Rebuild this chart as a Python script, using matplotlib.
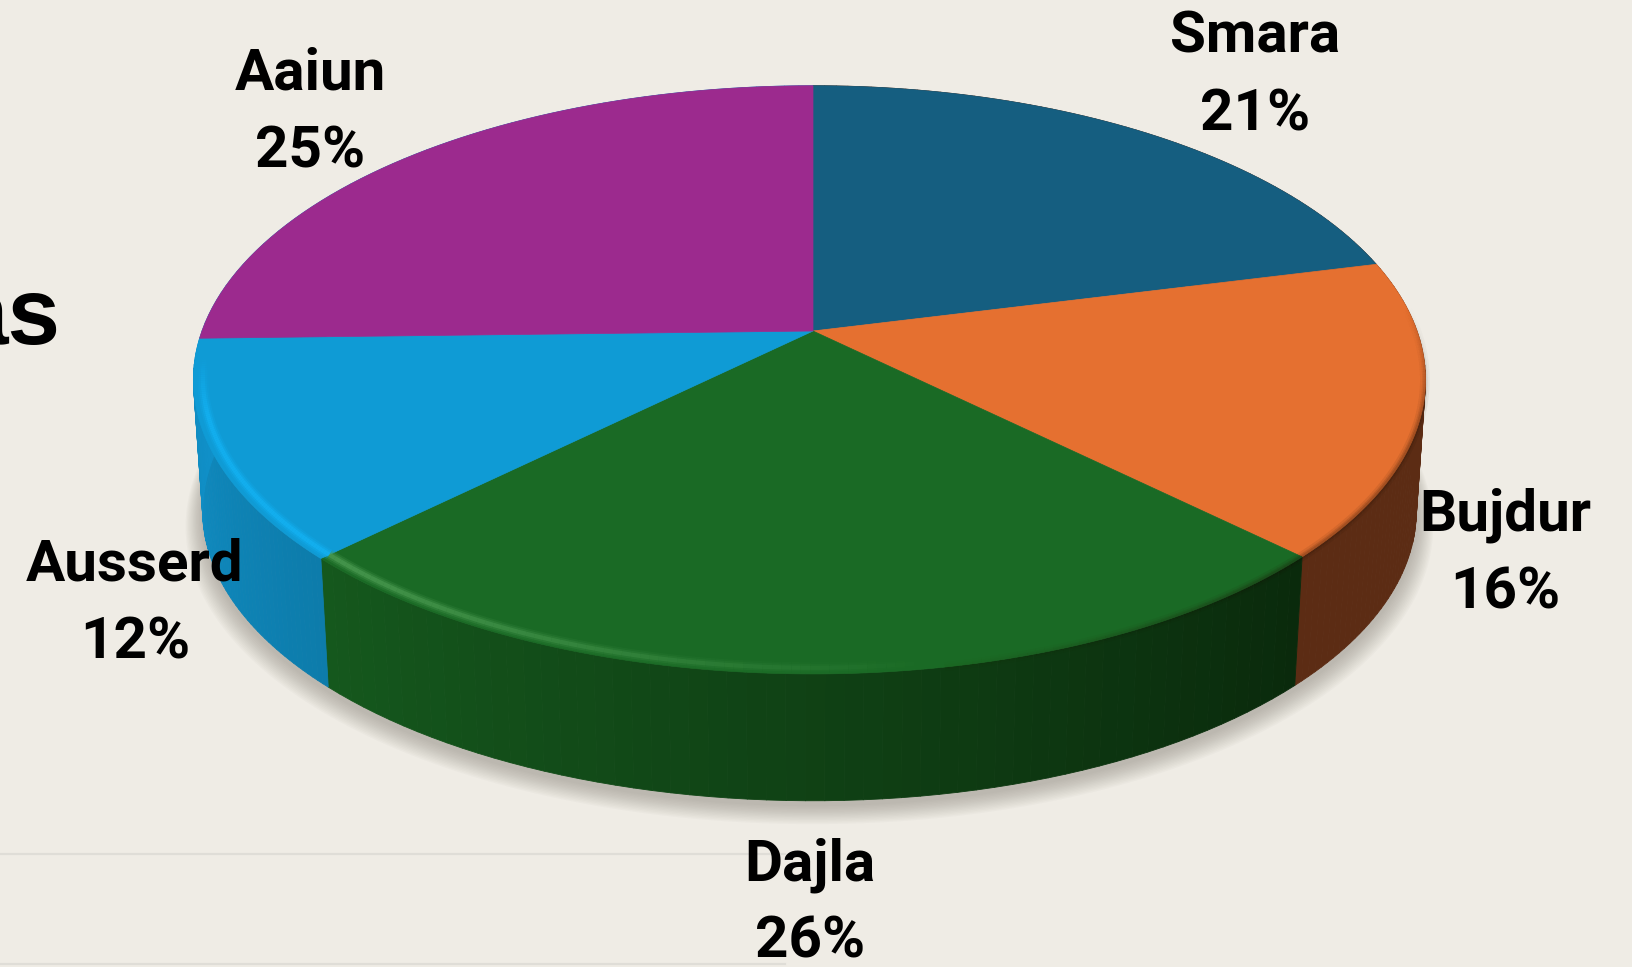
import numpy as np
import matplotlib
matplotlib.use("Agg")
from matplotlib import pyplot as plt
from matplotlib.collections import LineCollection, PolyCollection
from matplotlib.colors import to_rgb

# slices, clockwise from 12 o'clock
regions = ["Smara", "Bujdur", "Dajla", "Ausserd", "Aaiun"]
shares = [21.1, 16.2, 25.3, 12.0, 25.4]
percents = ["21%", "16%", "26%", "12%", "25%"]

top_colors = ["#155e80", "#e57030", "#1a6a25", "#0f9bd5", "#9c2a8e"]
wall_start = ["#5c2c14", "#5c2c14", "#0a2a0c", "#0d7cab", "#1090c8"]
wall_end = ["#5c2c14", "#5c2c14", "#15581d", "#1090c8", "#1090c8"]
rim_light = ["#155e80", "#e57030", "#4f9f55", "#14b4f5", "#14b4f5"]

# label centres in pixels (name line, percent line)
label_pos = [(1255, 37, 115), (1505, 515, 593), (810, 865, 942), (135, 565, 643), (310, 74, 152)]

bg = "#efece5"
# perspective of the disc
cx, cy = 813, 331
radius_right = 604
radius_left = 611
persp = 0.166
squash = 286
depth = 132
base_scale = 0.985


def top_xy(theta, r=1.0):
    theta = np.asarray(theta, dtype=float)
    u = r * np.sin(np.radians(theta))
    v = -r * np.cos(np.radians(theta))
    w = 1 - persp * v
    rad = np.where(u >= 0, radius_right, radius_left)
    return cx + rad * u / w, cy + squash * v / w


def base_xy(theta):
    x, y = top_xy(theta)
    return cx + (x - cx) * base_scale, cy + (y - cy) * base_scale + depth


def mix(c1, c2, t):
    c1, c2 = np.array(to_rgb(c1)), np.array(to_rgb(c2))
    return tuple(c1 + (c2 - c1) * t)


fig = plt.figure(figsize=(16.33, 9.67), dpi=100, facecolor=bg)
ax = fig.add_axes([0, 0, 1, 1])
ax.set_xlim(0, 1633)
ax.set_ylim(967, 0)
ax.axis("off")

# faint rules left behind the chart
ax.plot([0, 785], [854, 854], color="#dfddd7", lw=1.6, zorder=1)
ax.plot([0, 785], [964, 964], color="#dfddd7", lw=1.6, zorder=1)

# soft shadow under the disc
all_angles = np.linspace(0, 360, 361)
bx, by = base_xy(all_angles)
for i in range(14):
    s = 1.0 + 0.002 * (14 - i)
    sx = cx + (bx - cx) * s
    sy = cy + 127 + (by - cy - 127) * s + 4 + 0.7 * (14 - i)
    ax.fill(sx, sy, color="#6f6a60", alpha=0.03, lw=0, zorder=2)

edges = np.concatenate([[0], np.cumsum(shares)]) * 3.6
edges = edges * 360 / edges[-1]

# side walls, cut in thin strips so the colour can change along the rim
for i in range(len(regions)):
    a = np.linspace(edges[i], edges[i + 1], 60)
    polys, cols = [], []
    for j in range(len(a) - 1):
        x0, y0 = top_xy(a[j])
        x1, y1 = top_xy(a[j + 1])
        x2, y2 = base_xy(a[j + 1])
        x3, y3 = base_xy(a[j])
        polys.append([(x0, y0), (x1, y1), (x2, y2), (x3, y3)])
        cols.append(mix(wall_start[i], wall_end[i], j / (len(a) - 2)))
    ax.add_collection(PolyCollection(polys, facecolors=cols, edgecolors=cols, linewidths=0.6, zorder=3))

# top faces
for i in range(len(regions)):
    a = np.linspace(edges[i], edges[i + 1], 200)
    x, y = top_xy(a)
    ax.fill(np.r_[cx, x], np.r_[cy, y], color=top_colors[i], lw=0.5, zorder=4)

# bevel on the front rim: bright on the left, dark on the right
for i in range(len(regions)):
    a = np.linspace(edges[i], edges[i + 1], 120)
    x, y = top_xy(a, 0.985)
    pts = np.column_stack([x, y])
    segs = np.stack([pts[:-1], pts[1:]], axis=1)
    mid = (a[:-1] + a[1:]) / 2
    light = np.clip((mid - 170) / 55, 0, 1) * np.clip((265 - mid) / 12, 0, 1)
    dark = np.clip((mid - 85) / 25, 0, 1) * np.clip((170 - mid) / 35, 0, 1)
    for lw, al in [(8, 0.2), (5.5, 0.35), (3, 0.6)]:
        rgb = to_rgb(rim_light[i])
        c = [(rgb[0], rgb[1], rgb[2], al * t) for t in light]
        ax.add_collection(LineCollection(segs, colors=c, linewidths=lw, zorder=5))
    x, y = top_xy(a, 0.999)
    pts = np.column_stack([x, y])
    segs = np.stack([pts[:-1], pts[1:]], axis=1)
    for lw, al in [(7, 0.08), (4, 0.12), (2, 0.15)]:
        c = [(0.1, 0.05, 0.02, al * t) for t in dark]
        ax.add_collection(LineCollection(segs, colors=c, linewidths=lw, zorder=5))

# labels
for name, pct, (lx, y1, y2) in zip(regions, percents, label_pos):
    ax.text(lx, y1, name, ha="center", va="center", family="Roboto", fontweight="bold",
            fontsize=42, color="black", zorder=6)
    ax.text(lx, y2, pct, ha="center", va="center", family="Roboto", fontweight="bold",
            fontsize=42, color="black", zorder=6)

# end of the cut off title on the left edge
ax.text(60, 344, "as", ha="right", va="baseline", family="Liberation Sans", fontweight="bold",
        fontsize=68, color="black", zorder=6)

fig.savefig("out.png", dpi=100, facecolor=bg)
